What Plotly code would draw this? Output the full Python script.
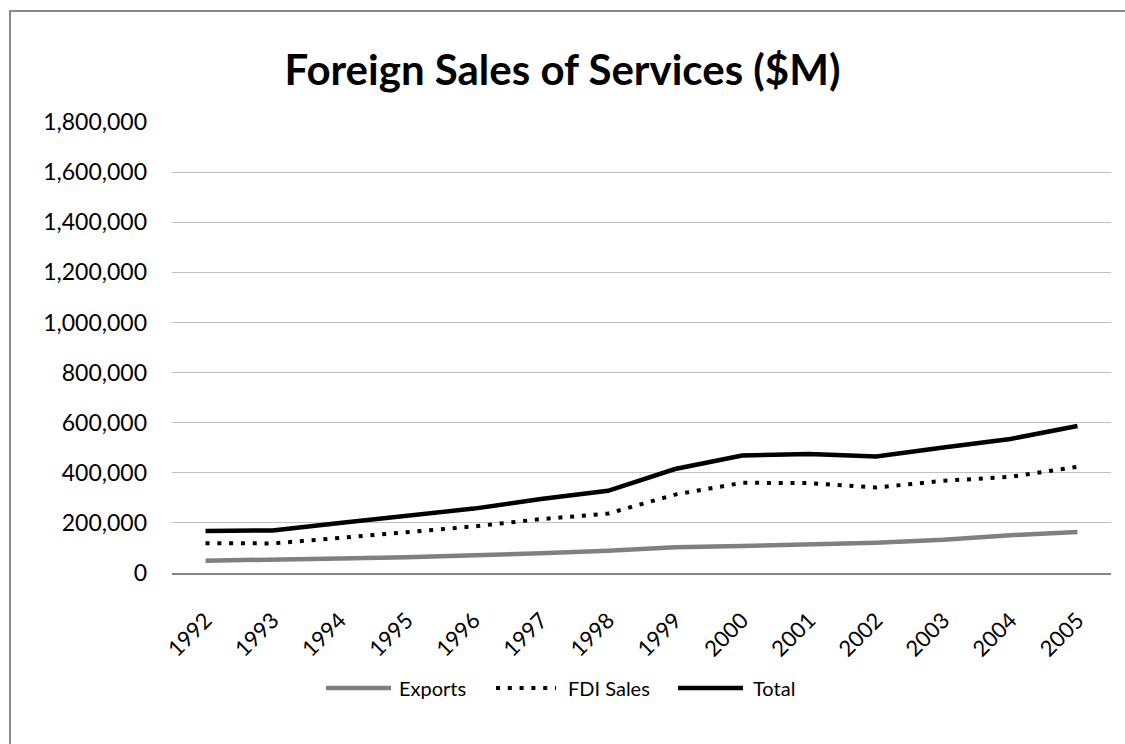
import plotly.graph_objects as go

years = ["1992", "1993", "1994", "1995", "1996", "1997", "1998",
         "1999", "2000", "2001", "2002", "2003", "2004", "2005"]
exports = [49000, 52000, 58000, 63000, 69000, 79000, 89000,
           103000, 108000, 113000, 121000, 133000, 151000, 164000]
fdi_sales = [119000, 118000, 140000, 163000, 186000, 215000, 237000,
             313000, 360000, 359000, 341000, 368000, 384000, 424000]
total = [168000, 170000, 200000, 228000, 257000, 295000, 328000,
         415000, 469000, 475000, 465000, 501000, 535000, 587000]
series_names = ["Exports", "FDI Sales", "Total"]
y_ticks = [0, 200000, 400000, 600000, 800000, 1000000,
           1200000, 1400000, 1600000, 1800000]
title_text = "Foreign Sales of Services ($M)"

FONT = "Lato, Carlito, Calibri, sans-serif"
W, H = 1125, 744
L, R, T, B = 172, 14, 122, 171
PW = W - L - R
PH = H - T - B


def px(x):
    return (x - L) / PW


def py(y):
    return (H - B - y) / PH


styles = [
    dict(color="#808080", width=4.5, dash="solid"),
    dict(color="#000000", width=4, dash="4px,7.8px"),
    dict(color="#000000", width=4.5, dash="solid"),
]

fig = go.Figure()
for name, vals, st in zip(series_names, [exports, fdi_sales, total], styles):
    fig.add_trace(go.Scatter(x=years, y=vals, name=name, mode="lines",
                             line=st, showlegend=False))

# custom legend (line samples + labels)
legend_items = [(326, 391, 397), (496, 556, 566), (678, 743, 751)]
ly = 688
shapes = []
annotations = []
for (x0, x1, tx), name, st in zip(legend_items, series_names, styles):
    shapes.append(dict(type="line", xref="paper", yref="paper",
                       x0=px(x0), x1=px(x1), y0=py(ly), y1=py(ly),
                       line=dict(color=st["color"], width=st["width"],
                                 dash=st["dash"])))
    annotations.append(dict(xref="paper", yref="paper", x=px(tx), y=py(ly),
                            xanchor="left", yanchor="middle", text=name,
                            showarrow=False,
                            font=dict(family=FONT, size=20, color="#000000")))

# chart frame
shapes.append(dict(type="rect", xref="paper", yref="paper",
                   x0=px(10), x1=px(W + 10), y0=py(11), y1=py(H + 10),
                   line=dict(color="#898989", width=2), layer="below"))

fig.update_layout(
    width=W, height=H,
    margin=dict(l=L, r=R, t=T, b=B),
    paper_bgcolor="white", plot_bgcolor="white",
    title=dict(text="<b>" + title_text + "</b>", x=0.5, xanchor="center",
               y=1 - 70 / H, yanchor="middle",
               font=dict(family=FONT, size=42, color="#000000")),
    font=dict(family=FONT, size=22, color="#000000"),
    xaxis=dict(type="category", range=[-0.5, len(years) - 0.5],
               showgrid=False, showline=True, linecolor="#868686",
               linewidth=1.5, tickangle=-45, ticks="",
               ticklabelstandoff=24,
               tickfont=dict(family=FONT, size=22, color="#000000")),
    yaxis=dict(range=[0, 1800000], tickvals=y_ticks, tickformat=",",
               showgrid=True, gridcolor="#C0C0C0", gridwidth=1,
               zeroline=False, showline=False, ticks="",
               ticklabelstandoff=24,
               tickfont=dict(family=FONT, size=23, color="#000000")),
    shapes=shapes, annotations=annotations,
)

fig.write_html("out.html")
